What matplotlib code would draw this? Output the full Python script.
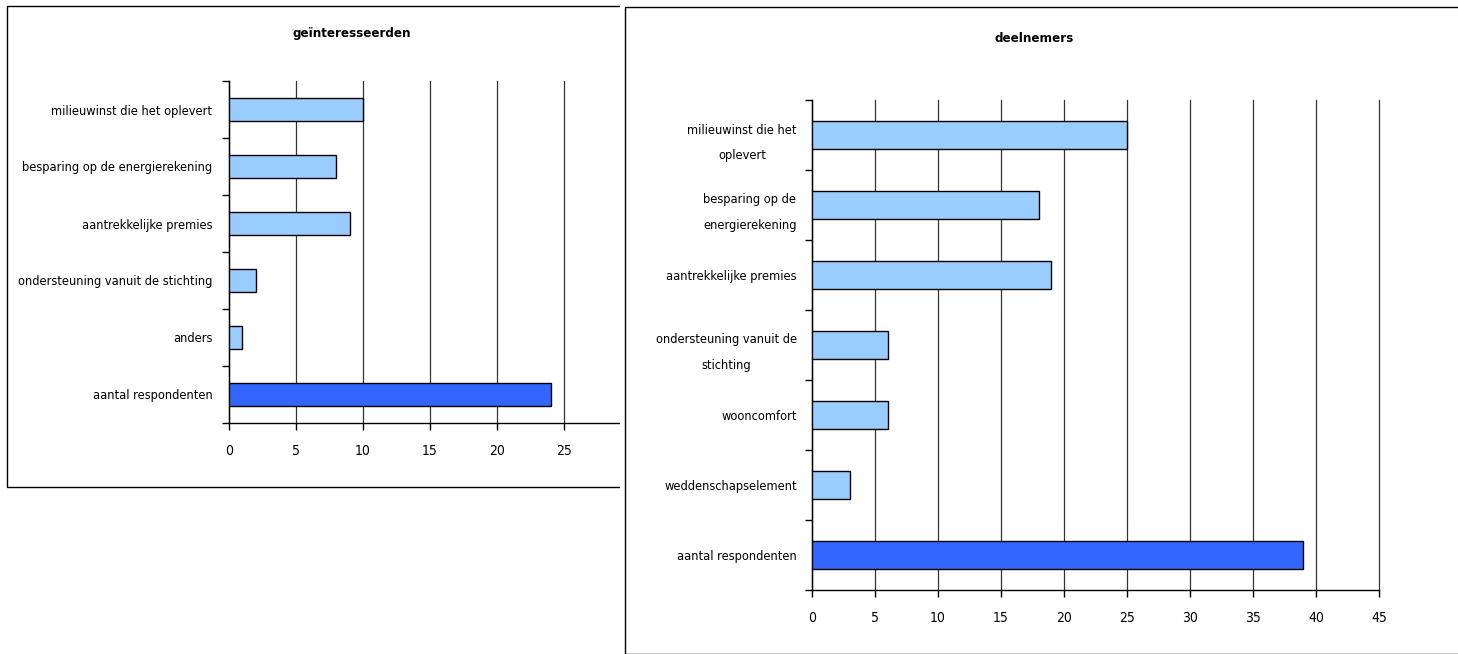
import numpy as np
import matplotlib
matplotlib.use('Agg')
import matplotlib.pyplot as plt
from matplotlib import font_manager
from matplotlib.patches import Rectangle

# data
left_title = 'geïnteresseerden'
left_labels = ['milieuwinst die het oplevert', 'besparing op de energierekening',
               'aantrekkelijke premies', 'ondersteuning vanuit de stichting',
               'anders', 'aantal respondenten']
left_values = [10, 8, 9, 2, 1, 24]
left_ticks = [0, 5, 10, 15, 20, 25]

right_title = 'deelnemers'
right_labels = ['milieuwinst die het\noplevert', 'besparing op de\nenergierekening',
                'aantrekkelijke premies', 'ondersteuning vanuit de\nstichting',
                'wooncomfort', 'weddenschapselement', 'aantal respondenten']
right_values = [25, 18, 19, 6, 6, 3, 39]
right_ticks = [0, 5, 10, 15, 20, 25, 30, 35, 40, 45]

light_color = '#99CCFF'
dark_color = '#3366FF'

# pick a narrow font if there is one
names = {f.name for f in font_manager.fontManager.ttflist}
stretch = 'normal'
if 'Liberation Sans Narrow' in names:
    family = 'Liberation Sans Narrow'
else:
    family = 'DejaVu Sans'
    stretch = 'condensed'
plt.rcParams['font.family'] = [family]
plt.rcParams['font.stretch'] = stretch

W, H = 1458, 654
fig = plt.figure(figsize=(W / 100, H / 100), dpi=100)


def box(x0, y0, x1, y1):
    # pixel box -> figure fraction
    return [x0 / W, 1 - y1 / H, (x1 - x0) / W, (y1 - y0) / H]


def draw_bars(ax, labels, values, xmax, ticks, fs, pad):
    n = len(labels)
    y = np.arange(n)[::-1]
    colors = [light_color] * (n - 1) + [dark_color]
    ax.barh(y, values, height=0.4, color=colors, edgecolor='black', linewidth=1, zorder=3)
    ax.set_ylim(-0.5, n - 0.5)
    ax.set_xlim(0, xmax)
    ax.set_xticks(ticks)
    ax.set_yticks(y)
    ax.set_yticklabels(labels, fontsize=fs, multialignment='center', linespacing=2.3)
    ax.set_yticks(np.arange(n + 1) - 0.5, minor=True)
    ax.tick_params(axis='y', which='major', length=0, pad=pad)
    ax.tick_params(axis='y', which='minor', length=5, width=1, direction='out')
    ax.tick_params(axis='x', length=5, width=1, direction='out', labelsize=10, pad=10)
    ax.grid(axis='x', color='#333333', linewidth=0.9, zorder=0)
    for line in ax.get_xgridlines():
        line.set_clip_on(False)
    for s in ['top', 'right']:
        ax.spines[s].set_visible(False)
    for s in ['left', 'bottom']:
        ax.spines[s].set_color('black')
        ax.spines[s].set_linewidth(1)


# left chart frame
fig.patches.append(Rectangle((7 / W, 1 - 487 / H), 700 / W, 481 / H, transform=fig.transFigure,
                             facecolor='white', edgecolor='black', linewidth=1, zorder=-1))
ax1 = fig.add_axes(box(229, 81, 631, 423))
draw_bars(ax1, left_labels, left_values, 30, left_ticks, 9.2, 12)
fig.text(352 / W, 1 - 33 / H, left_title, ha='center', va='center', fontsize=9.5, fontweight='bold')

# right chart covers the right part of the left one
fig.patches.append(Rectangle((620 / W, 0), 900 / W, 1, transform=fig.transFigure,
                             facecolor='white', edgecolor='none', zorder=0.4))
fig.patches.append(Rectangle((625 / W, 0), 900 / W, 1 - 7 / H, transform=fig.transFigure,
                             facecolor='white', edgecolor='black', linewidth=1, zorder=0.5))
ax2 = fig.add_axes(box(812, 100, 1379, 590))
ax2.set_zorder(1)
draw_bars(ax2, right_labels, right_values, 45, right_ticks, 9.2, 11)
fig.text(1034 / W, 1 - 39 / H, right_title, ha='center', va='center', fontsize=9.5, fontweight='bold')

fig.savefig('out.png', dpi=100)
